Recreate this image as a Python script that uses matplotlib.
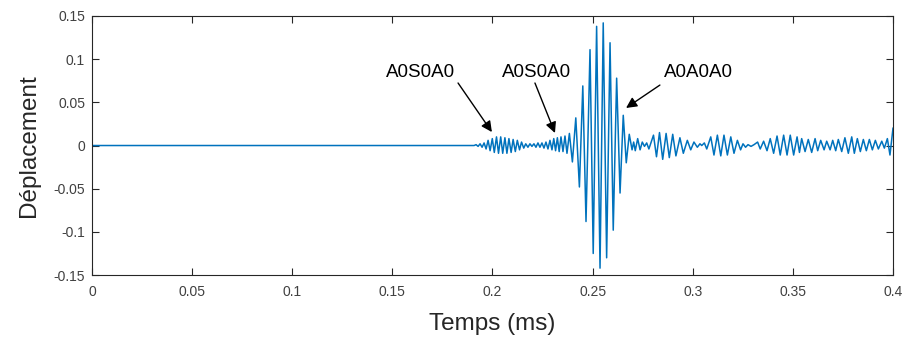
import matplotlib
matplotlib.use("Agg")
import matplotlib.pyplot as plt
from matplotlib.ticker import FuncFormatter
import numpy as np

# Signal extrema: time (microseconds) and displacement
time_us = [
    0.0, 190.8, 191.8, 192.8, 193.8, 194.8, 195.8, 196.8, 197.8, 198.8,
    199.9, 200.9, 202.0, 203.0, 204.1, 205.1, 206.2, 207.2, 208.2, 209.3,
    210.3, 211.4, 212.4, 213.5, 214.5, 215.6, 216.6, 217.7, 218.7, 219.7,
    220.7, 221.7, 222.7, 223.7, 224.7, 225.7, 226.7, 227.7, 228.7, 229.7,
    230.6, 231.5, 232.4, 233.3, 234.2, 235.2, 236.2, 237.2, 238.4, 239.9,
    241.6, 243.4, 245.1, 246.7, 248.7, 250.3, 252.0, 253.7, 255.3, 257.0,
    258.7, 260.3, 262.0, 263.7, 265.3, 266.8, 268.3, 269.7, 270.5, 271.3,
    272.5, 273.7, 274.8, 275.9, 277.0, 278.1, 280.4, 281.9, 283.4, 285.0,
    286.7, 288.3, 290.0, 291.6, 293.6, 295.3, 297.3, 299.0, 300.6, 302.3,
    303.6, 304.5, 305.8, 307.0, 309.0, 310.6, 312.3, 314.0, 315.6, 317.3,
    319.0, 320.6, 322.3, 323.9, 325.1, 326.4, 327.6, 329.1, 330.6, 332.4,
    333.7, 335.4, 337.1, 338.7, 340.4, 342.1, 343.7, 345.4, 347.1, 348.7,
    350.4, 352.1, 353.3, 354.4, 356.1, 357.7, 359.4, 361.1, 362.4, 363.9,
    365.6, 366.9, 368.6, 369.9, 371.4, 372.7, 374.4, 376.0, 377.7, 379.4,
    380.7, 382.2, 383.7, 385.2, 386.7, 388.2, 389.7, 391.2, 392.7, 394.4,
    395.7, 397.2, 398.5, 400.0,
]
displacement = [
    0.0, 0.0, 0.001, -0.001, 0.002, -0.002, 0.003, -0.004, 0.006, -0.006,
    0.008, -0.008, 0.010, -0.009, 0.010, -0.009, 0.009, -0.009, 0.008, -0.008,
    0.007, -0.007, 0.006, -0.005, 0.004, -0.003, 0.002, -0.002, 0.002, -0.001,
    0.002, -0.002, 0.003, -0.002, 0.003, -0.003, 0.004, -0.004, 0.006, -0.005,
    0.008, -0.006, 0.009, -0.007, 0.010, -0.007, 0.011, -0.009, 0.014, -0.019,
    0.032, -0.048, 0.069, -0.088, 0.111, -0.125, 0.138, -0.142, 0.142, -0.130,
    0.119, -0.098, 0.078, -0.055, 0.035, -0.020, 0.013, -0.005, 0.004, -0.006,
    0.008, -0.005, 0.004, -0.001, 0.003, -0.004, 0.012, -0.013, 0.015, -0.016,
    0.014, -0.014, 0.013, -0.012, 0.009, -0.009, 0.006, -0.005, 0.004, -0.002,
    0.002, 0.000, 0.003, -0.004, 0.010, -0.011, 0.012, -0.012, 0.012, -0.011,
    0.010, -0.009, 0.006, -0.005, 0.002, -0.002, 0.001, -0.001, 0.001, 0.004,
    -0.004, 0.005, -0.006, 0.008, -0.009, 0.011, -0.011, 0.012, -0.011, 0.012,
    -0.011, 0.010, -0.008, 0.008, -0.007, 0.007, -0.008, 0.008, -0.006, 0.006,
    -0.005, 0.005, -0.005, 0.006, -0.006, 0.007, -0.007, 0.009, -0.009, 0.010,
    -0.009, 0.008, -0.007, 0.007, -0.006, 0.007, -0.005, 0.006, -0.004, 0.005,
    -0.003, 0.008, -0.011, 0.020,
]

x_ticks = [0, 0.05, 0.1, 0.15, 0.2, 0.25, 0.3, 0.35, 0.4]
y_ticks = [-0.15, -0.1, -0.05, 0, 0.05, 0.1, 0.15]

# Mode labels: text position, arrow tail, arrow tip (ms, displacement)
mode_labels = ["A0S0A0", "A0S0A0", "A0A0A0"]
label_pos = [(0.1643, 0.085), (0.2222, 0.085), (0.3031, 0.085)]
arrow_tail = [(0.1828, 0.0724), (0.2212, 0.0724), (0.2836, 0.0700)]
arrow_tip = [(0.1997, 0.0156), (0.2312, 0.0145), (0.2667, 0.0435)]

plt.rcParams["font.family"] = ["Liberation Sans", "DejaVu Sans"]
axis_gray = "#262626"
label_gray = "#404040"

fig = plt.figure(figsize=(9.03, 3.40), dpi=100)
ax = fig.add_axes([0.1019, 0.191, 0.8870, 0.762])

t_ms = np.asarray(time_us) / 1000.0
ax.plot(t_ms, displacement, color="#0072BD", lw=1.1)

ax.set_xlim(0, 0.4)
ax.set_ylim(-0.15, 0.15)
ax.set_xticks(x_ticks)
ax.set_yticks(y_ticks)
fmt = FuncFormatter(lambda v, p: "%g" % v if abs(v) > 1e-12 else "0")
ax.xaxis.set_major_formatter(fmt)
ax.yaxis.set_major_formatter(fmt)

ax.tick_params(direction="in", length=5, width=0.8, color=axis_gray,
               labelcolor=label_gray, labelsize=10, top=True, right=True)
ax.tick_params(axis="x", pad=7)
ax.tick_params(axis="y", pad=5)
for s in ax.spines.values():
    s.set_color(axis_gray)
    s.set_linewidth(0.8)

ax.set_xlabel("Temps (ms)", fontsize=17.5, color=axis_gray, labelpad=10)
ax.set_ylabel("Déplacement", fontsize=17.5, color=axis_gray, labelpad=10)

for label, pos, tail, tip in zip(mode_labels, label_pos, arrow_tail, arrow_tip):
    ax.text(pos[0], pos[1], label, fontsize=13.5, ha="center", va="center",
            color="black")
    ax.annotate("", xy=tip, xytext=tail,
                arrowprops=dict(arrowstyle="-|>", color="black", lw=1.0,
                                mutation_scale=16, shrinkA=0, shrinkB=0))

fig.savefig("out.png", dpi=100, facecolor="white")
